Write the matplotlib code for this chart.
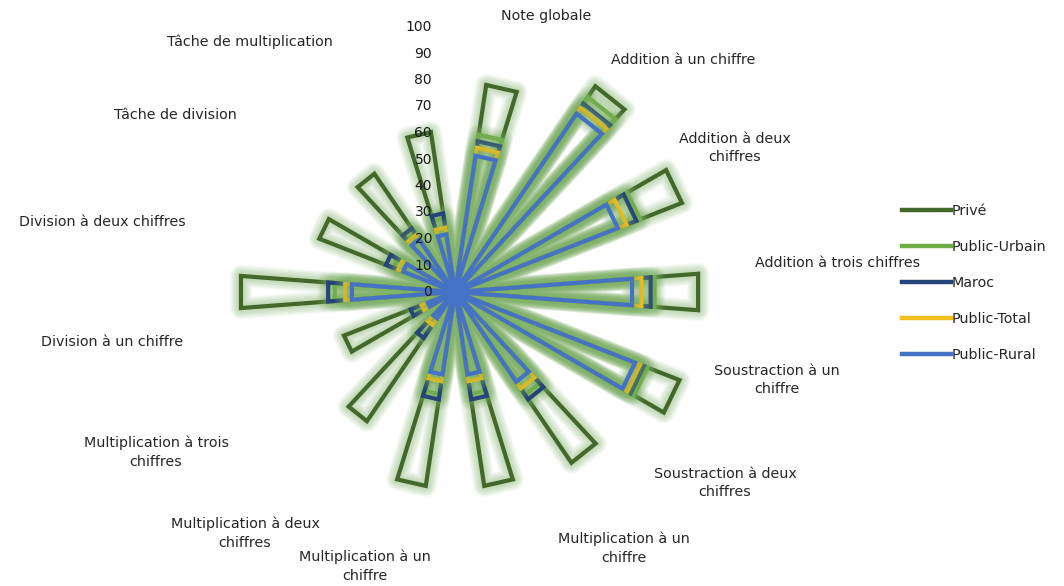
import numpy as np
import matplotlib
matplotlib.use("Agg")
import matplotlib.pyplot as plt
from matplotlib.lines import Line2D

plt.rcParams['font.family'] = ['DejaVu Sans']

# Categories in clockwise order, starting at the top
categories = [
    "Note globale",
    "Addition à un chiffre",
    "Addition à deux\nchiffres",
    "Addition à trois chiffres",
    "Soustraction à un\nchiffre",
    "Soustraction à deux\nchiffres",
    "Multiplication à un\nchiffre",
    "Multiplication à un\nchiffre",
    "Multiplication à deux\nchiffres",
    "Multiplication à trois\nchiffres",
    "Division à un chiffre",
    "Division à deux chiffres",
    "Tâche de division",
    "Tâche de multiplication",
]

prive = [79, 94, 92, 92, 91, 78, 74, 74, 59, 45, 81, 55, 54, 61]
public_urbain = [60, 89, 75, 75.5, 78, 47, 39, 39, 19, 16, 45.5, 25, 27, 28]
maroc = [57.5, 86, 73.5, 74, 76.5, 49, 41, 41, 21, 18, 48, 28, 29, 30]
public_total = [55, 84, 69.5, 70.5, 75, 44, 34, 34, 15, 13.5, 41.5, 23, 26, 24.5]
public_rural = [52, 81.5, 66, 67, 73, 41, 31.5, 31.5, 12, 11, 39, 21, 24, 22]

series_names = ["Privé", "Public-Urbain", "Maroc", "Public-Total", "Public-Rural"]
series_values = [prive, public_urbain, maroc, public_total, public_rural]
series_colors = ["#43682B", "#70AD47", "#264478", "#F2BE1C", "#4472C4"]

ticks = list(range(0, 101, 10))

# Label anchor positions (figure pixels, origin top-left)
label_pos = [
    (546, 16), (683, 60), (735, 148), (838, 263), (777, 380),
    (725, 483), (624, 548), (365, 566), (245, 533), (156, 452),
    (112, 342), (102, 222), (175, 115), (250, 42),
]

W, H = 1064, 586
fig = plt.figure(figsize=(W / 100, H / 100), dpi=100)
cx, cy, R = 455, 292, 265
ax = fig.add_axes([(cx - R) / W, (H - cy - R) / H, 2 * R / W, 2 * R / H],
                  projection='polar')
ax.set_theta_zero_location('N')
ax.set_theta_direction(-1)
ax.set_ylim(0, 100)
ax.grid(False)
ax.set_xticks([])
ax.set_yticks([])
ax.spines['polar'].set_visible(False)
ax.patch.set_alpha(0)

# Each category is a wedge: centre -> value -> value -> centre
n = len(categories)
step = 2 * np.pi / n


def spike_path(vals):
    th, rr = [], []
    for i, v in enumerate(vals):
        base = i * step
        th += [base, base + step / 3, base + 2 * step / 3]
        rr += [0, v, v]
    th.append(2 * np.pi)
    rr.append(0)
    return np.array(th), np.array(rr)


# Soft green glow: many stacked translucent strokes of decreasing width
glow = "#7FB466"
glow_widths = np.arange(16, 3, -1.0)
handles = []
for name, vals, col in zip(series_names, series_values, series_colors):
    th, rr = spike_path(vals)
    for lw in glow_widths:
        ax.plot(th, rr, color=glow, lw=lw, alpha=0.045, solid_joinstyle='round',
                solid_capstyle='round', clip_on=False)
    ax.plot(th, rr, color=col, lw=3.0, solid_joinstyle='miter', clip_on=False)
    handles.append(Line2D([], [], color=col, lw=3.2, label=name))

# Radial scale labels along the top axis
for t in ticks:
    ax.annotate(str(t), xy=(0, t), xytext=(-23, 0), textcoords='offset pixels',
                ha='right', va='center', fontsize=10, color='#1a1a1a',
                zorder=10, annotation_clip=False)

for lab, (px, py) in zip(categories, label_pos):
    fig.text(px / W, 1 - py / H, lab, ha='center', va='center', fontsize=10.3,
             color='#262626', linespacing=1.45)

fig.legend(handles=handles, loc='center left',
           bbox_to_anchor=(902 / W, 1 - 283 / H), frameon=False,
           fontsize=10.3, handlelength=3.4, handletextpad=0.1,
           labelspacing=1.55, borderpad=0, borderaxespad=0, labelcolor='#262626')

fig.savefig("out.png", dpi=100)
